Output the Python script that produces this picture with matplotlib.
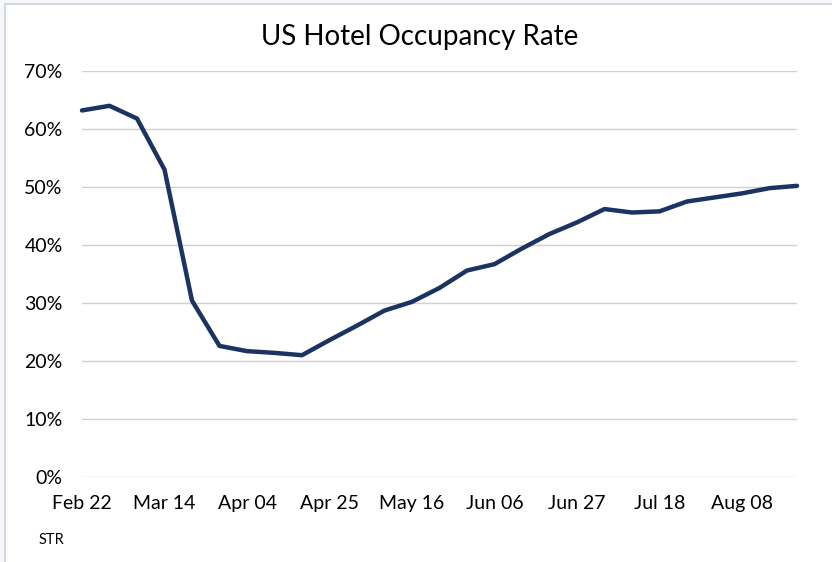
import matplotlib
matplotlib.use("Agg")
import matplotlib.pyplot as plt
import matplotlib.dates as mdates
from matplotlib.patches import Rectangle
import pandas as pd

# ── Data: weekly US hotel occupancy (STR), 2020 ──
week_dates = [
    "2020-02-22", "2020-02-29", "2020-03-07", "2020-03-14", "2020-03-21",
    "2020-03-28", "2020-04-04", "2020-04-11", "2020-04-18", "2020-04-25",
    "2020-05-02", "2020-05-09", "2020-05-16", "2020-05-23", "2020-05-30",
    "2020-06-06", "2020-06-13", "2020-06-20", "2020-06-27", "2020-07-04",
    "2020-07-11", "2020-07-18", "2020-07-25", "2020-08-01", "2020-08-08",
    "2020-08-15", "2020-08-22",
]
occupancy = [
    63.2, 64.0, 61.8, 53.0, 30.4, 22.6, 21.7, 21.4, 21.0, 23.6,
    26.1, 28.7, 30.2, 32.6, 35.6, 36.7, 39.4, 41.9, 43.9, 46.2,
    45.6, 45.8, 47.5, 48.2, 48.9, 49.8, 50.2,
]
tick_dates = ["2020-02-22", "2020-03-14", "2020-04-04", "2020-04-25", "2020-05-16",
              "2020-06-06", "2020-06-27", "2020-07-18", "2020-08-08"]
y_ticks = [0, 10, 20, 30, 40, 50, 60, 70]

dates = pd.to_datetime(week_dates)
ticks = pd.to_datetime(tick_dates)

plt.rcParams["font.family"] = ["Lato", "DejaVu Sans"]

fig = plt.figure(figsize=(8.32, 5.62), dpi=100)
fig.patch.set_facecolor("#f4f7fb")
# white card with faint border like the screenshot
fig.patches.append(Rectangle((5 / 832, -0.01), 1.0, 1 - 4 / 562 + 0.01,
                             transform=fig.transFigure, facecolor="white",
                             edgecolor="#d0d0d0", linewidth=1.2, zorder=-1))

ax = fig.add_axes([82 / 832, 1 - 477 / 562, (797 - 82) / 832, (477 - 71) / 562])
ax.set_zorder(1)
ax.set_facecolor("white")
ax.plot(dates, occupancy, color="#1a3361", linewidth=3.2, solid_joinstyle="round",
        solid_capstyle="round", zorder=3, clip_on=False)

ax.set_ylim(0, 70)
ax.set_xlim(dates[0], dates[-1])
ax.set_yticks(y_ticks)
ax.set_yticklabels([f"{v}%" for v in y_ticks])
ax.set_xticks(ticks)
ax.xaxis.set_major_formatter(mdates.DateFormatter("%b %d"))
ax.grid(axis="y", color="#d0d0d0", linewidth=1.0)
ax.tick_params(axis="both", length=0, labelsize=14, colors="#000000")
ax.tick_params(axis="y", pad=14)
ax.tick_params(axis="x", pad=13)
for s in ax.spines.values():
    s.set_visible(False)

fig.text(420 / 832, 1 - 37 / 562, "US Hotel Occupancy Rate", ha="center", va="center",
         fontsize=20)
fig.text(39 / 832, 1 - 540 / 562, "STR", ha="left", va="center", fontsize=10.5)

fig.savefig("out.png", dpi=100)
